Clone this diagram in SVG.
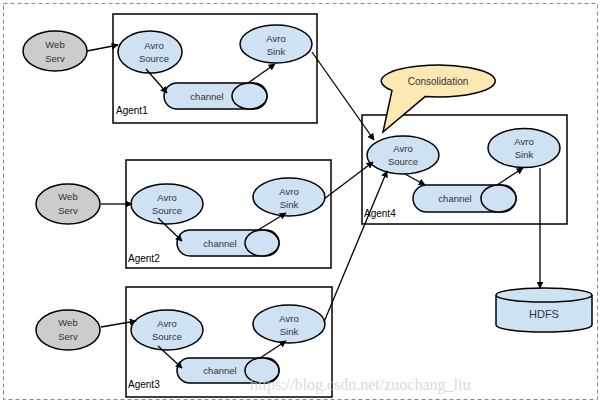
<svg xmlns="http://www.w3.org/2000/svg" width="602" height="405" viewBox="0 0 602 405">
<defs>
<marker id="ah" viewBox="0 0 10 10" refX="9" refY="5" markerWidth="7" markerHeight="7" markerUnits="userSpaceOnUse" orient="auto">
<path d="M0,0 L10,5 L0,10 Z" fill="#000"/>
</marker>
</defs>
<style>
.frame{fill:none;stroke:#888;stroke-width:1;stroke-dasharray:4,3}
.agent{fill:#fff;stroke:#000;stroke-width:1.5}
.web{fill:#cccccc;stroke:#000;stroke-width:1.5}
.node{fill:#cfe2f3;stroke:#000;stroke-width:1.5}
.call{fill:#fce8b2;stroke:#000;stroke-width:1.5}
.t{font-family:"Liberation Sans",Arial,sans-serif;font-size:9.5px;fill:#333;text-anchor:middle}
.al{font-family:"Liberation Sans",Arial,sans-serif;font-size:10px;fill:#000}
.c{fill:none;stroke:#000;stroke-width:1.3;marker-end:url(#ah)}
.wm{font-family:"Liberation Serif","Times New Roman",serif;font-size:16px;fill:#ccc;opacity:0.7}
</style>
<rect class="frame" x="3.5" y="3.5" width="594" height="396"/>

<g id="agent1">
<rect class="agent" x="113" y="14" width="204" height="109"/>
<text class="al" x="116" y="114">Agent1</text>
</g>
<g id="agent2">
<rect class="agent" x="126" y="160" width="205" height="108"/>
<text class="al" x="128" y="262">Agent2</text>
</g>
<g id="agent3">
<rect class="agent" x="126" y="287" width="206" height="110"/>
<text class="al" x="128" y="388">Agent3</text>
</g>
<g id="agent4">
<rect class="agent" x="362" y="115" width="205" height="109"/>
<text class="al" x="364" y="217">Agent4</text>
</g>

<g id="web1"><ellipse class="web" cx="55" cy="51" rx="32" ry="20"/><text class="t" x="55" y="48">Web</text><text class="t" x="55" y="62">Serv</text></g>
<g id="web2"><ellipse class="web" cx="68" cy="204" rx="32" ry="20"/><text class="t" x="68" y="200">Web</text><text class="t" x="68" y="214">Serv</text></g>
<g id="web3"><ellipse class="web" cx="68" cy="330" rx="32" ry="20"/><text class="t" x="68" y="326">Web</text><text class="t" x="68" y="340">Serv</text></g>

<g id="source1"><ellipse class="node" cx="150" cy="52" rx="32" ry="21"/><text class="t" x="154" y="49">Avro</text><text class="t" x="154" y="62">Source</text></g>
<g id="sink1"><ellipse class="node" cx="276" cy="44" rx="36" ry="19"/><text class="t" x="276" y="42">Avro</text><text class="t" x="276" y="55">Sink</text></g>
<g id="channel1"><rect class="node" x="164" y="83" width="103" height="26" rx="13"/><ellipse class="node" cx="249.5" cy="96" rx="17.5" ry="13"/><text class="t" x="207" y="99.5">channel</text></g>

<g id="source2"><ellipse class="node" cx="167" cy="204" rx="36" ry="20"/><text class="t" x="167" y="201">Avro</text><text class="t" x="167" y="214">Source</text></g>
<g id="sink2"><ellipse class="node" cx="289" cy="197" rx="36" ry="19"/><text class="t" x="289" y="195">Avro</text><text class="t" x="289" y="208">Sink</text></g>
<g id="channel2"><rect class="node" x="177" y="230" width="102" height="26" rx="13"/><ellipse class="node" cx="262" cy="243" rx="17" ry="13"/><text class="t" x="220" y="246.5">channel</text></g>

<g id="source3"><ellipse class="node" cx="167" cy="330" rx="36" ry="20"/><text class="t" x="167" y="327">Avro</text><text class="t" x="167" y="340">Source</text></g>
<g id="sink3"><ellipse class="node" cx="289" cy="324" rx="36" ry="19"/><text class="t" x="289" y="322">Avro</text><text class="t" x="289" y="335">Sink</text></g>
<g id="channel3"><rect class="node" x="177" y="358" width="102" height="25" rx="12.5"/><ellipse class="node" cx="262" cy="370.5" rx="17" ry="12.5"/><text class="t" x="220" y="374">channel</text></g>

<g id="source4"><ellipse class="node" cx="403" cy="155" rx="36" ry="19"/><text class="t" x="403" y="152">Avro</text><text class="t" x="403" y="165">Source</text></g>
<g id="sink4"><ellipse class="node" cx="524" cy="148" rx="36" ry="19.5"/><text class="t" x="524" y="145">Avro</text><text class="t" x="524" y="158">Sink</text></g>
<g id="channel4"><rect class="node" x="413" y="185" width="103" height="27" rx="13.5"/><ellipse class="node" cx="498.5" cy="198.5" rx="17.5" ry="13.5"/><text class="t" x="455" y="202">channel</text></g>

<g id="hdfs">
<path class="node" d="M496,295 L496,325 A48,7 0 0 0 592,325 L592,295"/>
<ellipse class="node" cx="544" cy="295" rx="48" ry="7"/>
<text class="t" x="544" y="318" style="font-size:11px">HDFS</text>
</g>

<g id="consolidation">
<path class="call" d="M425,96.6 L383,132 L392,90.4 A57,16 0 1 1 425,96.6 Z"/>
<text class="t" x="438" y="85" style="font-size:10px">Consolidation</text>
</g>

<g id="connectors">
<line class="c" x1="87" y1="51" x2="118" y2="45"/>
<line class="c" x1="146" y1="69" x2="167" y2="93"/>
<line class="c" x1="248" y1="83" x2="275" y2="64"/>
<line class="c" x1="312" y1="52" x2="374" y2="140"/>
<line class="c" x1="101" y1="204" x2="132" y2="204"/>
<line class="c" x1="158" y1="218" x2="182" y2="241"/>
<line class="c" x1="258" y1="230" x2="286" y2="213"/>
<line class="c" x1="324" y1="199" x2="373" y2="162"/>
<line class="c" x1="101" y1="327" x2="136" y2="321"/>
<line class="c" x1="158" y1="346" x2="182" y2="368"/>
<line class="c" x1="260" y1="358" x2="286" y2="341"/>
<line class="c" x1="324" y1="322" x2="387" y2="171"/>
<line class="c" x1="405" y1="174" x2="425" y2="185"/>
<line class="c" x1="497" y1="185" x2="523" y2="168"/>
<line class="c" x1="540" y1="168" x2="540" y2="288"/>
</g>

<text class="wm" x="250" y="390">https://blog.csdn.net/zuochang_liu</text>
</svg>
